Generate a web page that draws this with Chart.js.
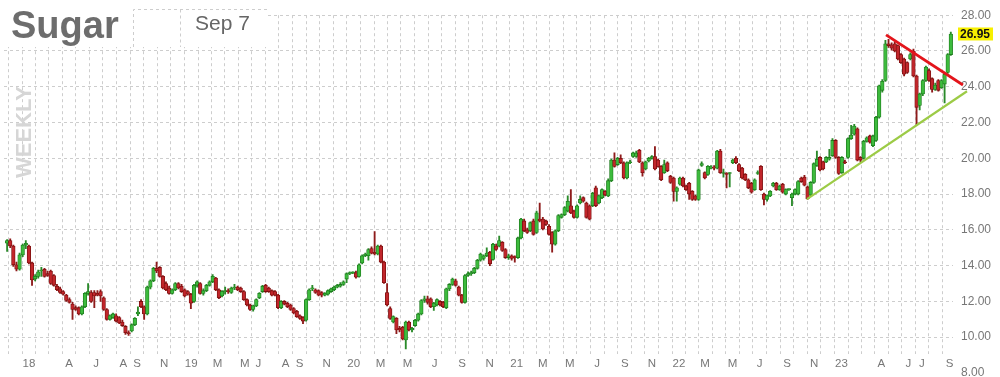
<!DOCTYPE html>
<html>
<head>
<meta charset="utf-8">
<script src="https://cdn.jsdelivr.net/npm/chart.js@4.4.1/dist/chart.umd.min.js"></script>
<style>
    html, body { margin: 0; padding: 0; background: #fff; }
    #wrap { width: 1000px; height: 377px; }
</style>
</head>
<body>
<div id="wrap"><canvas id="sugarChart" width="1000" height="377"></canvas></div>
<script>
// weekly candles, first one is the week of Nov 13 2017
const opens = [
    15.25,15.4,15.1,14.05,13.8,14.6,15.15,15.1,14.15,13.25,
    13.4,13.7,13.8,13.55,13.7,13.45,12.85,12.7,12.55,12.35,
    12.1,11.85,11.65,11.65,11.3,11.7,12.45,12.5,12.5,12.45,
    12.55,12.2,11.55,11.0,11.1,11.2,11.1,10.85,10.6,10.25,
    10.35,10.7,11.3,12.0,11.7,11.3,12.8,13.15,13.85,13.9,
    13.4,13.0,12.75,12.45,12.65,13.0,12.85,12.65,12.55,12.4,
    12.0,12.9,13.0,12.45,12.6,12.9,13.1,13.3,12.65,12.3,
    12.55,12.6,12.5,12.75,12.8,12.75,12.55,12.1,11.8,11.55,
    11.75,12.2,12.55,12.9,12.75,12.6,12.55,12.35,11.65,12.0,
    11.9,11.8,11.6,11.45,11.2,11.1,10.95,12.1,12.7,12.65,
    12.6,12.5,12.35,12.4,12.55,12.65,12.8,12.85,12.95,13.25,
    13.55,13.6,13.6,13.4,14.15,14.55,14.55,14.95,14.75,14.65,
    15.1,14.2,12.5,11.6,10.85,11.05,10.5,10.55,9.85,10.85,
    10.4,10.65,10.95,11.3,12.05,12.15,12.15,11.7,11.8,12.0,
    11.95,11.65,12.7,12.95,13.15,12.8,12.35,11.95,13.45,13.55,
    13.6,13.85,14.3,14.4,14.55,14.75,14.35,15.1,15.1,15.3,
    14.9,14.45,14.55,14.5,14.45,15.55,16.5,16.0,15.95,16.5,
    15.85,16.6,16.6,16.5,16.2,15.85,15.2,15.95,16.7,16.85,
    17.05,17.35,17.05,16.7,17.5,17.8,17.5,17.35,17.35,18.35,
    17.5,17.8,18.15,17.9,18.75,19.9,19.65,20.0,19.75,18.9,
    19.75,20.1,20.1,20.45,19.75,19.4,19.85,20.0,20.1,19.9,
    19.55,19.2,19.75,19.0,18.9,18.15,18.55,18.9,18.45,18.6,
    18.15,17.9,17.7,19.6,19.2,19.1,19.45,19.5,19.45,20.4,
    19.15,19.15,19.15,19.75,20.0,19.65,19.45,19.1,18.8,18.6,
    18.25,19.15,19.55,18.0,17.7,17.9,18.45,18.6,18.25,18.55,
    18.0,18.25,17.8,18.0,18.0,18.9,18.95,18.4,17.95,18.65,
    19.6,20.05,19.8,19.8,19.95,20.15,21.0,20.05,19.2,19.8,
    20.05,21.1,21.35,21.65,20.05,20.0,20.95,21.25,20.7,21.0,
    22.3,23.8,24.35,26.4,26.35,26.4,26.3,25.8,25.55,25.35,
    25.55,26.0,24.6,22.95,23.6,24.35,24.9,24.45,23.85,24.35,
    23.95,24.15,24.8,25.8
];
const highs = [
    15.45,15.5,15.15,14.2,14.7,15.2,15.4,15.15,14.2,13.5,
    13.75,13.9,13.85,13.7,13.75,13.5,12.95,12.8,12.6,12.4,
    12.2,11.95,11.75,11.7,11.75,12.5,13.0,12.6,12.6,12.6,
    12.65,12.25,11.6,11.25,11.35,11.3,11.15,10.95,10.65,10.35,
    10.75,11.1,11.7,12.1,11.75,12.85,13.2,13.9,14.2,13.95,
    13.45,13.1,12.85,12.7,13.05,13.05,12.95,12.7,12.6,12.45,
    12.95,13.15,13.05,12.7,12.95,13.15,13.5,13.35,12.7,12.6,
    12.8,12.7,12.8,12.95,12.85,12.8,12.6,12.15,11.85,11.8,
    12.15,12.5,12.9,12.95,12.8,12.65,12.6,12.4,12.05,12.05,
    11.95,11.85,11.65,11.5,11.25,11.15,12.15,12.7,12.9,12.7,
    12.65,12.55,12.5,12.65,12.75,12.85,12.95,13.05,13.15,13.6,
    13.65,13.65,13.7,14.1,14.6,14.7,14.95,15.05,15.9,15.15,
    15.15,14.25,13.0,11.7,11.2,11.1,10.6,10.6,10.9,10.9,
    10.55,11.0,11.35,12.1,12.3,12.3,12.2,11.95,12.15,12.05,
    12.0,12.75,13.0,13.3,13.25,12.85,12.4,13.5,13.65,13.7,
    13.9,14.35,14.7,14.6,15.0,14.8,15.25,15.2,15.65,15.35,
    14.95,14.65,14.6,14.55,15.6,16.65,16.6,16.1,16.45,16.6,
    17.05,17.5,16.7,16.55,16.3,15.9,16.0,16.85,16.9,17.3,
    17.9,18.25,17.1,17.4,17.9,17.85,17.55,17.4,18.1,18.45,
    17.95,18.3,18.2,18.85,19.95,20.3,20.05,20.2,19.8,19.8,
    19.9,20.35,20.4,20.5,19.8,19.85,20.05,20.15,20.65,19.95,
    19.6,19.9,19.8,19.05,18.95,18.4,18.95,18.95,18.5,18.65,
    18.2,17.95,19.4,19.8,19.25,19.6,19.6,19.6,20.45,20.5,
    19.4,19.2,19.2,19.95,20.1,19.7,19.5,19.15,18.85,18.65,
    18.85,19.3,19.6,18.05,17.95,18.2,18.65,18.65,18.5,18.6,
    18.3,18.3,18.05,18.3,18.75,18.95,19.05,18.45,18.7,19.75,
    20.4,20.1,19.85,20.1,20.5,21.1,21.05,20.1,20.1,19.9,
    21.15,21.85,21.9,21.7,20.1,21.0,21.2,21.3,21.3,22.35,
    24.1,24.4,26.6,26.65,26.45,26.5,26.35,25.85,25.6,25.4,
    25.9,26.1,24.65,23.65,24.4,25.15,25.0,24.5,24.2,24.4,
    24.4,24.75,25.85,27.05
];
const lows = [
    14.8,15.0,13.95,13.7,13.75,14.5,14.95,14.1,12.9,13.15,
    13.3,13.4,13.35,13.4,12.95,12.85,12.6,12.45,12.35,12.0,
    11.9,11.0,11.5,11.25,11.25,11.65,12.35,11.95,11.65,12.3,
    12.0,11.5,10.95,10.95,11.05,10.85,10.75,10.6,10.15,10.1,
    10.3,10.65,11.2,11.65,11.0,11.25,12.7,13.1,13.6,13.35,
    12.7,12.6,12.4,12.4,12.6,12.7,12.5,12.25,12.35,11.6,
    11.95,12.8,12.4,12.35,12.55,12.85,13.05,12.6,12.15,12.25,
    12.4,12.45,12.45,12.65,12.6,12.5,12.05,11.75,11.5,11.45,
    11.7,12.15,12.5,12.5,12.5,12.3,12.3,11.6,11.6,11.8,
    11.65,11.5,11.3,11.1,11.0,10.75,10.9,12.05,12.6,12.45,
    12.3,12.25,12.3,12.35,12.5,12.6,12.75,12.8,12.9,13.05,
    13.5,13.55,13.3,13.35,14.1,14.5,14.3,14.65,14.6,14.6,
    14.15,13.0,11.75,11.0,10.8,10.2,10.3,9.85,9.35,10.35,
    10.3,10.6,10.9,11.25,11.95,11.85,11.65,11.5,11.75,11.75,
    11.65,11.6,12.6,12.9,12.85,12.3,11.9,11.9,13.4,13.45,
    13.55,13.8,14.25,14.3,14.5,14.0,14.3,14.85,15.05,14.8,
    14.4,14.35,14.3,14.2,14.4,15.5,15.9,15.8,15.9,15.7,
    15.8,16.45,16.0,16.25,15.7,14.75,15.15,15.9,16.65,16.8,
    17.0,16.9,16.65,16.65,17.45,17.55,16.65,16.55,17.3,17.3,
    17.45,17.75,17.9,17.85,18.7,19.5,19.6,19.7,18.85,18.85,
    19.7,20.05,20.05,19.75,19.0,19.35,19.8,19.95,19.35,19.5,
    18.75,19.15,19.25,18.6,17.6,17.6,18.5,18.4,18.2,17.7,
    17.65,17.65,17.65,19.55,18.85,19.05,19.4,19.35,19.4,19.15,
    18.95,18.35,18.4,19.7,19.7,19.25,18.85,18.75,18.3,18.05,
    18.2,19.1,18.2,17.4,17.6,17.85,18.4,18.2,18.2,18.05,
    17.95,18.2,17.35,17.95,17.95,18.65,18.45,17.7,17.9,18.6,
    19.55,19.3,19.35,19.75,19.9,20.1,20.0,19.1,19.15,19.7,
    20.0,21.05,21.3,19.85,19.8,19.95,20.9,20.85,20.65,20.95,
    22.25,23.7,24.3,26.2,26.05,25.95,25.5,25.3,24.6,24.75,
    25.5,24.55,21.9,22.7,23.5,24.3,24.3,23.7,23.8,23.75,
    23.9,23.1,24.75,25.75
];
const closes = [
    15.4,15.1,14.05,13.8,14.6,15.15,15.25,14.15,13.2,13.4,
    13.65,13.75,13.4,13.45,13.0,12.9,12.65,12.5,12.4,12.05,
    11.95,11.55,11.55,11.3,11.7,12.45,12.55,12.0,12.3,12.35,
    12.3,11.55,11.0,11.2,11.3,10.9,10.8,10.65,10.25,10.2,
    10.7,11.05,11.4,11.7,11.3,12.8,13.15,13.85,13.7,13.4,
    12.75,12.65,12.45,12.65,13.0,12.75,12.55,12.3,12.4,11.9,
    12.9,13.1,12.45,12.6,12.9,13.1,13.4,12.65,12.2,12.55,
    12.6,12.55,12.75,12.8,12.65,12.55,12.1,11.8,11.55,11.75,
    12.1,12.45,12.85,12.55,12.55,12.35,12.35,11.65,12.0,11.85,
    11.7,11.55,11.35,11.15,11.05,10.9,12.1,12.65,12.75,12.5,
    12.35,12.35,12.45,12.6,12.7,12.8,12.9,12.95,13.1,13.55,
    13.6,13.6,13.35,14.05,14.55,14.65,14.9,14.7,14.65,15.1,
    14.2,13.05,11.8,11.05,11.15,10.4,10.4,9.9,10.85,10.4,
    10.5,10.95,11.3,12.05,12.15,11.95,11.7,11.9,12.1,11.8,
    11.7,12.7,12.95,13.25,12.9,12.35,11.95,13.45,13.55,13.6,
    13.85,14.3,14.65,14.55,14.7,14.1,15.2,14.9,15.4,14.85,
    14.45,14.55,14.4,14.45,15.55,16.6,15.95,15.85,16.4,15.75,
    16.95,16.5,16.05,16.3,15.75,15.2,15.95,16.8,16.85,17.25,
    17.6,16.95,16.7,17.35,17.7,17.6,16.7,16.6,18.05,17.35,
    17.9,18.25,17.95,18.75,19.9,19.55,20.0,19.75,18.9,19.75,
    19.8,20.3,20.3,19.8,19.2,19.8,20.0,20.1,19.4,19.55,
    18.8,19.65,19.3,18.65,18.15,18.35,18.9,18.45,18.25,18.0,
    17.7,17.7,19.35,19.7,18.9,19.55,19.5,19.45,20.4,19.2,
    19.15,19.1,19.15,19.9,19.75,19.3,18.9,18.8,18.35,18.1,
    18.8,19.2,18.25,17.7,17.9,18.15,18.6,18.25,18.45,18.1,
    18.25,18.25,18.0,18.25,18.7,18.7,18.5,17.75,18.65,19.7,
    19.95,19.35,19.4,20.05,20.05,21.0,20.05,19.15,20.05,19.75,
    21.1,21.3,21.8,19.9,19.9,20.95,21.15,20.9,21.25,22.3,
    24.05,24.3,26.4,26.3,26.15,26.0,25.55,25.35,24.7,24.8,
    25.8,24.6,22.85,23.6,24.35,25.1,24.35,23.85,24.1,23.8,
    24.35,24.7,25.8,26.95
];

// month starts in weeks from the first candle, and their labels
const monthTicks = [
    2.6,
    7.0, 11.4, 15.4, 19.9, 24.1, 28.6, 32.9, 37.3, 41.7, 46.0, 50.4, 54.7,
    59.1, 63.6, 67.6, 72.0, 76.3, 80.7, 85.0, 89.4, 93.9, 98.1, 102.6, 106.9,
    111.3, 115.7, 119.9, 124.3, 128.6, 133.0, 137.3, 141.7, 146.1, 150.4, 154.9, 159.1,
    163.6, 168.0, 172.0, 176.4, 180.7, 185.1, 189.4, 193.9, 198.3, 202.6, 207.0, 211.3,
    215.7, 220.1, 224.1, 228.6, 232.9, 237.3, 241.6, 246.0, 250.4, 254.7, 259.1, 263.4,
    267.9, 272.3, 276.3, 280.7, 285.0, 289.4, 293.7, 298.1, 302.6
];
const monthLabels = [
    '',
    '18', '', '', 'A', '', 'J', '', 'A', 'S', '', 'N', '',
    '19', '', 'M', '', 'M', 'J', '', 'A', 'S', '', 'N', '',
    '20', '', 'M', '', 'M', '', 'J', '', 'S', '', 'N', '',
    '21', '', 'M', '', 'M', '', 'J', '', 'S', '', 'N', '',
    '22', '', 'M', '', 'M', '', 'J', '', 'S', '', 'N', '',
    '23', '', '', 'A', '', 'J', 'J', '', 'S'
];
const priceTicks = [8, 10, 12, 14, 16, 18, 20, 22, 24, 26, 28];

// hand drawn trend lines (week, price)
const resistanceLine = [{ x: 282.2, y: 26.9 }, { x: 306.9, y: 24.1 }];
const supportLine = [{ x: 256.8, y: 17.72 }, { x: 308.2, y: 23.75 }];

const UP = '#3dbb3d', UP_EDGE = '#1e7d1e', UP_WICK = '#2a8a2a';
const DOWN = '#c1262b', DOWN_EDGE = '#7a0f0f', DOWN_WICK = '#8e1b1b';
const GRID = '#cdcdcd';
const isUp = i => closes[i] >= opens[i];

Chart.defaults.font.family = '"Liberation Sans", Arial, Helvetica, sans-serif';

const decorations = {
    id: 'decorations',
    beforeDatasetsDraw(chart) {
        const ctx = chart.ctx;
        ctx.save();
        ctx.fillStyle = '#fff';
        ctx.fillRect(0, 0, 133, 47);
        ctx.fillRect(134, 10, 134, 37);

        ctx.strokeStyle = GRID;
        ctx.lineWidth = 1;
        ctx.setLineDash([3, 3]);
        ctx.beginPath();
        ctx.moveTo(133.5, 47); ctx.lineTo(133.5, 9.5); ctx.lineTo(268, 9.5);
        ctx.moveTo(180.5, 9.5); ctx.lineTo(180.5, 47);
        ctx.stroke();
        ctx.setLineDash([]);

        ctx.fillStyle = '#6d6d6d';
        ctx.font = 'bold 38px "Liberation Sans", Arial, sans-serif';
        ctx.textBaseline = 'alphabetic';
        ctx.fillText('Sugar', 11, 38);

        ctx.fillStyle = '#666';
        ctx.font = '21px "Liberation Sans", Arial, sans-serif';
        ctx.fillText('Sep 7', 195, 30);

        ctx.translate(31, 132);
        ctx.rotate(-Math.PI / 2);
        ctx.fillStyle = '#d6d6d6';
        ctx.font = 'bold 22px "Liberation Sans", Arial, sans-serif';
        ctx.textAlign = 'center';
        ctx.fillText('WEEKLY', 0, 0);
        ctx.restore();
    },
    afterDraw(chart) {
        const ctx = chart.ctx;
        const last = closes[closes.length - 1];
        const y = chart.scales.y.getPixelForValue(last);
        ctx.save();
        ctx.fillStyle = '#f7f000';
        ctx.fillRect(958, y - 6.5, 35, 13);
        ctx.fillStyle = '#111';
        ctx.font = 'bold 12px "Liberation Sans", Arial, sans-serif';
        ctx.textBaseline = 'middle';
        ctx.fillText(last.toFixed(2), 960, y + 0.5);
        ctx.restore();
    }
};

new Chart(document.getElementById('sugarChart'), {
    type: 'bar',
    data: {
        datasets: [
            {
                type: 'line',
                data: resistanceLine,
                borderColor: '#e3151b',
                borderWidth: 2.8,
                pointRadius: 0,
                clip: false,
                order: 0
            },
            {
                type: 'line',
                data: supportLine,
                borderColor: '#9ccb46',
                borderWidth: 2.2,
                pointRadius: 0,
                clip: false,
                order: 0
            },
            {
                data: closes.map((c, i) => ({ x: i, y: [opens[i], c] })),
                backgroundColor: ctx => isUp(ctx.dataIndex) ? UP : DOWN,
                borderColor: ctx => isUp(ctx.dataIndex) ? UP_EDGE : DOWN_EDGE,
                borderWidth: 0.8,
                borderSkipped: false,
                barThickness: 3.6,
                minBarLength: 1,
                grouped: false,
                order: 1
            },
            {
                data: highs.map((h, i) => ({ x: i, y: [lows[i], h] })),
                backgroundColor: ctx => isUp(ctx.dataIndex) ? UP_WICK : DOWN_WICK,
                borderWidth: 0,
                barThickness: 1.2,
                grouped: false,
                order: 2
            }
        ]
    },
    options: {
        responsive: false,
        animation: false,
        events: [],
        devicePixelRatio: 1,
        layout: {
            padding: { left: 4, top: 14, right: 0, bottom: 0 }
        },
        plugins: {
            legend: { display: false },
            tooltip: { enabled: false }
        },
        scales: {
            x: {
                type: 'linear',
                min: -1,
                max: 303.7,
                offset: false,
                afterBuildTicks: scale => {
                    scale.ticks = monthTicks.map(v => ({ value: v }));
                },
                afterFit: scale => { scale.height = 23; },
                grid: { color: GRID, drawTicks: false },
                border: { display: false, dash: [3, 3] },
                ticks: {
                    autoSkip: false,
                    maxRotation: 0,
                    minRotation: 0,
                    padding: 3,
                    color: '#777',
                    font: { size: 11.5 },
                    callback: (value, index) => monthLabels[index]
                }
            },
            y: {
                position: 'right',
                min: 9.06,
                max: 28,
                afterBuildTicks: scale => {
                    scale.ticks = priceTicks.map(v => ({ value: v }));
                },
                afterFit: scale => { scale.width = 47; },
                grid: {
                    drawTicks: false,
                    color: ctx => (ctx.tick && ctx.tick.value < 9) ? 'rgba(0,0,0,0)' : GRID
                },
                border: { display: false, dash: [3, 3] },
                ticks: {
                    autoSkip: false,
                    padding: 8,
                    color: '#777',
                    font: { size: 12 },
                    callback: v => v.toFixed(2)
                }
            }
        }
    },
    plugins: [decorations]
});
</script>
</body>
</html>
